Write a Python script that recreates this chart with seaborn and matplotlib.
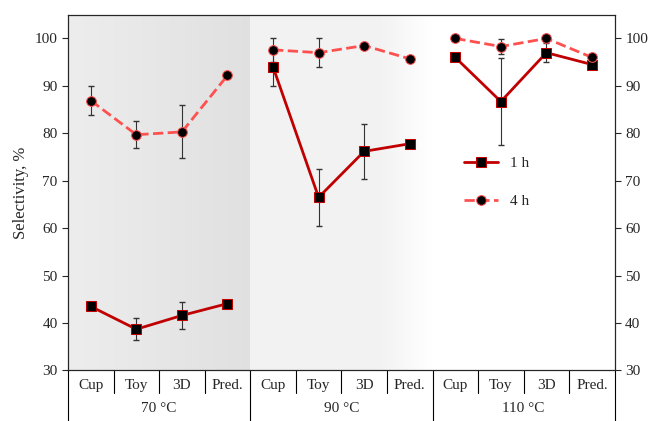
import numpy as np
import pandas as pd
import seaborn as sns
import matplotlib.pyplot as plt

materials = ['Cup', 'Toy', '3D', 'Pred.']
temps = ['70 °C', '90 °C', '110 °C']
sel_1h = [43.5, 38.7, 41.6, 44.1, 94.0, 66.5, 76.2, 77.8, 96.0, 86.7, 97.0, 94.5]
err_1h = [0.0, 2.3, 2.8, 0.0, 4.0, 6.0, 5.8, 0.0, 0.0, 9.2, 2.0, 0.0]
sel_4h = [86.9, 79.7, 80.3, 92.2, 97.6, 97.0, 98.5, 95.7, 100.0, 98.3, 100.0, 96.0]
err_4h = [3.0, 2.8, 5.6, 0.0, 2.5, 3.0, 0.0, 0.0, 0.0, 1.5, 0.0, 0.0]

sns.set_style('white')
plt.rcParams['font.family'] = ['Liberation Serif', 'DejaVu Serif']

x = np.arange(12)
df = pd.DataFrame({'x': np.concatenate([x, x]),
                   'sel': sel_1h + sel_4h,
                   'time': ['1 h'] * 12 + ['4 h'] * 12})

fig = plt.figure(figsize=(6.54, 4.21), dpi=100)
ax = fig.add_axes([0.104, 0.12, 0.836, 0.845])
ax.set_xlim(-0.5, 11.5)
ax.set_ylim(30, 105)

# shaded backgrounds
g1 = np.linspace(0.93, 0.88, 100)[None, :]
ax.imshow(np.dstack([g1] * 3), extent=(-0.5, 3.5, 30, 105), aspect='auto', zorder=0)
g2 = np.concatenate([np.full(70, 0.95), np.linspace(0.95, 1.0, 30)])[None, :]
ax.imshow(np.dstack([g2] * 3), extent=(3.5, 7.5, 30, 105), aspect='auto', zorder=0)

ax.errorbar(x, sel_1h, yerr=err_1h, fmt='none', ecolor='#333333', elinewidth=0.8, capsize=2.5, zorder=2)
ax.errorbar(x, sel_4h, yerr=err_4h, fmt='none', ecolor='#333333', elinewidth=0.8, capsize=2.5, zorder=2)

for start in [0, 4, 8]:
    seg = df[(df.x >= start) & (df.x < start + 4)]
    sns.lineplot(data=seg[seg.time == '1 h'], x='x', y='sel', ax=ax, color='#c00000', lw=2,
                 marker='s', markersize=7, markerfacecolor='black', markeredgecolor='#c00000',
                 label='1 h' if start == 0 else None, zorder=3)
    sns.lineplot(data=seg[seg.time == '4 h'], x='x', y='sel', ax=ax, color='#ff5050', lw=2,
                 linestyle='--', marker='o', markersize=7, markerfacecolor='black',
                 markeredgecolor='#ff5050', label='4 h' if start == 0 else None, zorder=3)

ax.set_xlim(-0.5, 11.5)
ax.set_ylim(30, 105)
ax.set_yticks(range(30, 101, 10))
ax.set_xticks(x)
ax.set_xticklabels(materials * 3, fontsize=11)
ax.set_xlabel('')
ax.set_ylabel('Selectivity, %', fontsize=12)
ax.tick_params(axis='y', labelsize=11, direction='out', length=4, left=True)
ax.tick_params(axis='x', length=0, pad=6)
for s in ax.spines.values():
    s.set_color('black')
    s.set_linewidth(0.8)
ax2 = ax.twinx()
ax2.set_ylim(30, 105)
ax2.set_yticks(range(30, 101, 10))
ax2.tick_params(axis='y', labelsize=11, direction='out', length=4, right=True)

# category separators below axis
for b in np.arange(-0.5, 12, 1):
    big = b in (-0.5, 3.5, 7.5, 11.5)
    ax.plot([b, b], [30, 30 - (12 if big else 4.7)], color='black', lw=0.8, clip_on=False)
for i, t in enumerate(temps):
    ax.text(1.5 + 4 * i, 30 - 8, t, ha='center', va='center', fontsize=11)

ax.legend(loc='upper left', bbox_to_anchor=(0.7, 0.64), frameon=False, fontsize=11,
          handlelength=2.2, labelspacing=1.6)
fig.savefig('out.png', dpi=100)
